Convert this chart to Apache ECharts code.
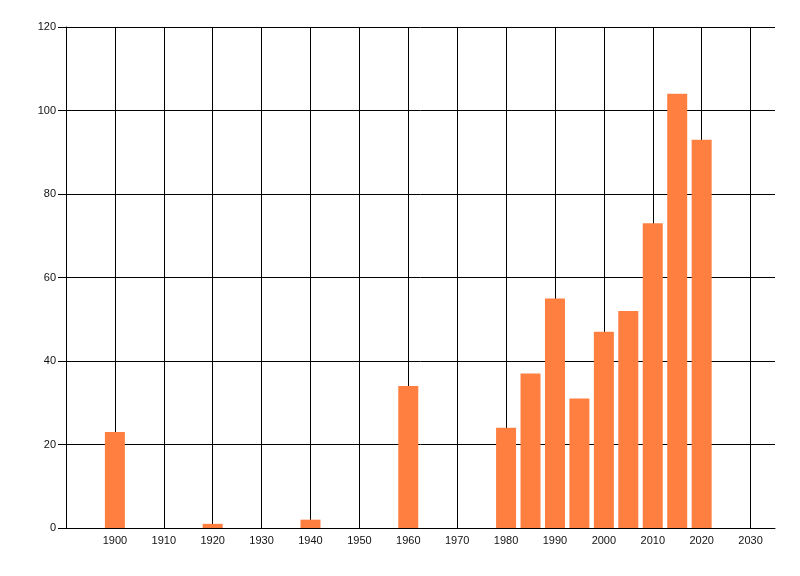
<!DOCTYPE html>
<html>
<head>
<meta charset="utf-8">
<script src="https://cdn.jsdelivr.net/npm/echarts@6/dist/echarts.min.js"></script>
<style>
  html, body { margin: 0; padding: 0; background: #fff; }
  #main { width: 800px; height: 576px; }
</style>
</head>
<body>
<div id="main"></div>
<script>
// years and counts
var years = [1900, 1920, 1940, 1960, 1980, 1985, 1990, 1995, 2000, 2005, 2010, 2015, 2020];
var counts = [23, 1, 2, 34, 24, 37, 55, 31, 47, 52, 73, 104, 93];

var xMin = 1890, xMax = 2035, xStep = 10;
var yMin = 0, yMax = 120, yStep = 20;

function pairs() {
    var out = [];
    for (var i = 0; i < years.length; i++) {
        out.push([years[i], counts[i]]);
    }
    return out;
}

var chart = echarts.init(document.getElementById('main'), null, { renderer: 'canvas' });

var font = { fontFamily: 'Liberation Sans', fontSize: 11, color: '#111' };

var option = {
    animation: false,
    backgroundColor: '#fff',
    grid: { left: 66, top: 27, right: 25, bottom: 48 },
    xAxis: {
        type: 'value',
        min: xMin,
        max: xMax,
        interval: xStep,
        axisLine: { show: true, lineStyle: { color: '#000', width: 1 } },
        axisTick: { show: false },
        axisLabel: {
            margin: 7,
            fontFamily: font.fontFamily,
            fontSize: font.fontSize,
            color: font.color,
            showMinLabel: false,
            formatter: function (v) {
                if (v === xMin || v === xMax) return '';
                return String(v);
            }
        },
        // no right border in the original
        splitLine: { show: true, showMaxLine: false, lineStyle: { color: '#000', width: 1 } }
    },
    yAxis: {
        type: 'value',
        min: yMin,
        max: yMax,
        interval: yStep,
        axisLine: { show: true, lineStyle: { color: '#000', width: 1 } },
        axisTick: { show: true, length: 8, lineStyle: { color: '#000' } },
        axisLabel: {
            margin: 10,
            fontFamily: font.fontFamily,
            fontSize: font.fontSize,
            color: font.color
        },
        splitLine: { show: true, lineStyle: { color: '#000', width: 1 } }
    },
    series: [{
        type: 'bar',
        data: pairs(),
        barWidth: 20,
        itemStyle: { color: '#FF7F40' }
    }]
};

chart.setOption(option);
</script>
</body>
</html>
